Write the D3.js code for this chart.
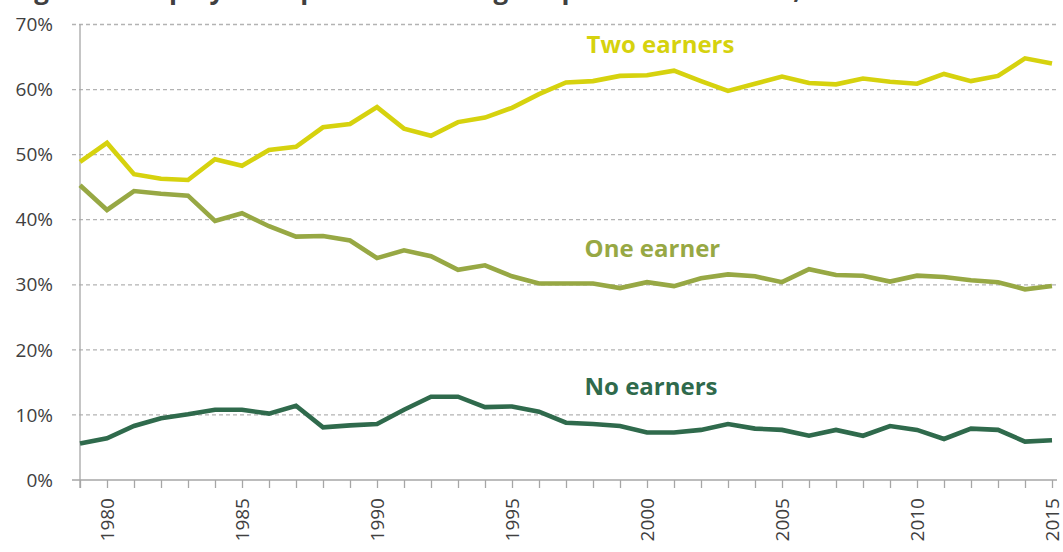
<!DOCTYPE html>
<html>
<head>
<meta charset="utf-8">
<script src="https://cdn.jsdelivr.net/npm/d3@7"></script>
<style>
    body { margin: 0; background: #fff; }
    #chart { width: 1063px; height: 552px; }
    text { font-family: "Open Sans", "Noto Sans", sans-serif; }
</style>
</head>
<body>
<div id="chart"></div>
<script>
// data
const years = d3.range(1979, 2016);
const twoEarners = [48.9, 51.8, 47.0, 46.3, 46.1, 49.3, 48.3, 50.7, 51.2, 54.2,
    54.7, 57.3, 54.0, 52.9, 55.0, 55.7, 57.2, 59.3, 61.1, 61.3,
    62.1, 62.2, 62.9, 61.3, 59.8, 60.9, 62.0, 61.0, 60.8, 61.7,
    61.2, 60.9, 62.4, 61.3, 62.1, 64.8, 64.0];
const oneEarner = [45.3, 41.5, 44.4, 44.0, 43.7, 39.8, 41.0, 39.0, 37.4, 37.5,
    36.8, 34.1, 35.3, 34.4, 32.3, 33.0, 31.3, 30.2, 30.2, 30.2,
    29.5, 30.4, 29.8, 31.0, 31.6, 31.3, 30.4, 32.4, 31.5, 31.4,
    30.5, 31.4, 31.2, 30.7, 30.4, 29.3, 29.8];
const noEarners = [5.6, 6.4, 8.3, 9.5, 10.1, 10.8, 10.8, 10.2, 11.4, 8.1,
    8.4, 8.6, 10.8, 12.8, 12.8, 11.2, 11.3, 10.5, 8.8, 8.6,
    8.3, 7.3, 7.3, 7.7, 8.6, 7.9, 7.7, 6.8, 7.7, 6.8,
    8.3, 7.7, 6.3, 7.9, 7.7, 5.9, 6.1];
const yTicks = [0, 10, 20, 30, 40, 50, 60, 70];
const xLabelYears = [1980, 1985, 1990, 1995, 2000, 2005, 2010, 2015];

const series = [
    { name: "Two earners", values: twoEarners, color: "#d6d20e", labelYear: 2000.5, labelValue: 65.55 },
    { name: "One earner", values: oneEarner, color: "#97a844", labelYear: 2000.2, labelValue: 34.25 },
    { name: "No earners", values: noEarners, color: "#2f6a4c", labelYear: 2000.15, labelValue: 13.05 }
];

const width = 1063, height = 552;
const margin = { top: 24.5, right: 11, bottom: 72, left: 80 };

const svg = d3.select("#chart")
    .append("svg")
    .attr("width", width)
    .attr("height", height);

// title, cut off at the top of the picture so only descenders show
svg.append("text")
    .attr("x", 12)
    .attr("y", -1)
    .attr("font-size", 26)
    .attr("font-weight", "bold")
    .attr("fill", "#404040")
    .text("Figure 3. Employment patterns among couples with children, 1979 to 2015");

const x = d3.scaleLinear()
    .domain([1979, 2015])
    .range([margin.left, width - margin.right]);

const y = d3.scaleLinear()
    .domain([0, 70])
    .range([height - margin.bottom, margin.top]);

// gridlines
svg.append("g")
    .selectAll("line")
    .data(yTicks.filter(d => d > 0))
    .join("line")
    .attr("x1", margin.left - 8)
    .attr("x2", width - 6)
    .attr("y1", d => y(d))
    .attr("y2", d => y(d))
    .attr("stroke", "#b3b3b3")
    .attr("stroke-width", 1.3)
    .attr("stroke-dasharray", "4,3");

// x axis
const xAxis = d3.axisBottom(x)
    .tickValues(years)
    .tickSize(8)
    .tickFormat("");

svg.append("g")
    .attr("transform", `translate(0,${y(0)})`)
    .call(xAxis)
    .call(g => g.select(".domain").remove())
    .call(g => g.selectAll(".tick line").attr("stroke", "#a6a6a6").attr("stroke-width", 1.3));

svg.append("line")
    .attr("x1", margin.left - 8)
    .attr("x2", width - 6)
    .attr("y1", y(0))
    .attr("y2", y(0))
    .attr("stroke", "#a6a6a6")
    .attr("stroke-width", 1.3);

// y axis line
svg.append("line")
    .attr("x1", x(1979))
    .attr("x2", x(1979))
    .attr("y1", y(70))
    .attr("y2", y(0) + 8)
    .attr("stroke", "#a6a6a6")
    .attr("stroke-width", 1.3);

// y labels
svg.append("g")
    .selectAll("text")
    .data(yTicks)
    .join("text")
    .attr("x", 53)
    .attr("y", d => y(d))
    .attr("dy", "0.35em")
    .attr("text-anchor", "end")
    .attr("font-size", 19)
    .attr("fill", "#404040")
    .text(d => d + "%");

// x labels, rotated
svg.append("g")
    .selectAll("text")
    .data(xLabelYears)
    .join("text")
    .attr("transform", d => `translate(${x(d)},${y(0) + 18}) rotate(-90)`)
    .attr("dy", "0.35em")
    .attr("text-anchor", "end")
    .attr("font-size", 19)
    .attr("fill", "#404040")
    .text(d => d);

// lines
const line = d3.line()
    .x((d, i) => x(years[i]))
    .y(d => y(d));

svg.append("g")
    .selectAll("path")
    .data(series)
    .join("path")
    .attr("d", d => line(d.values))
    .attr("fill", "none")
    .attr("stroke", d => d.color)
    .attr("stroke-width", 4.6)
    .attr("stroke-linejoin", "miter");

// series labels
svg.append("g")
    .selectAll("text")
    .data(series)
    .join("text")
    .attr("x", d => x(d.labelYear))
    .attr("y", d => y(d.labelValue))
    .attr("text-anchor", "middle")
    .attr("font-size", 24)
    .attr("font-weight", "bold")
    .attr("fill", d => d.color)
    .text(d => d.name);
</script>
</body>
</html>
